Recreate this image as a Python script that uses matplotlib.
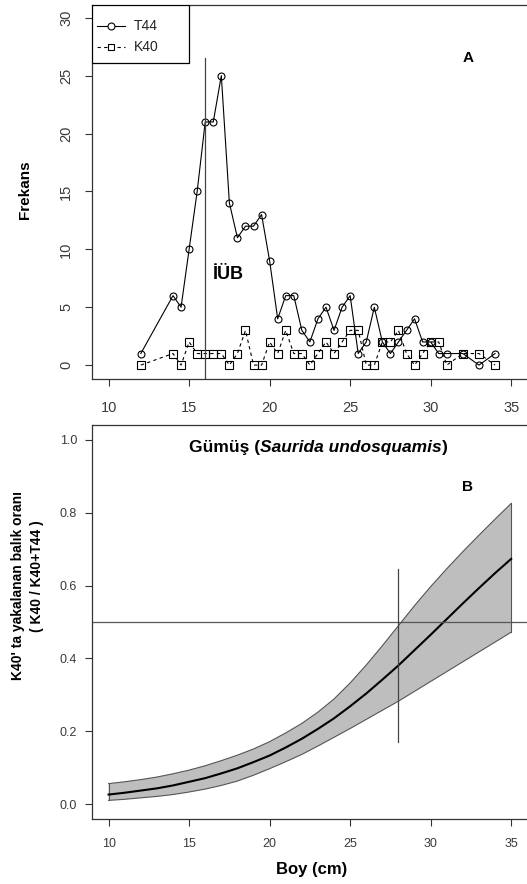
import numpy as np
import matplotlib.pyplot as plt
from matplotlib.patches import Rectangle
from matplotlib.lines import Line2D

plt.rcParams['font.family'] = ['Liberation Sans', 'DejaVu Sans']

# boy frekans dagilimi (A)
boy_t44 = [12, 14, 14.5, 15, 15.5, 16, 16.5, 17, 17.5, 18, 18.5, 19, 19.5, 20,
           20.5, 21, 21.5, 22, 22.5, 23, 23.5, 24, 24.5, 25, 25.5, 26, 26.5, 27,
           27.5, 28, 28.5, 29, 29.5, 30, 30.5, 31, 32, 33, 34]
frek_t44 = [1, 6, 5, 10, 15, 21, 21, 25, 14, 11, 12, 12, 13, 9,
            4, 6, 6, 3, 2, 4, 5, 3, 5, 6, 1, 2, 5, 2,
            1, 2, 3, 4, 2, 2, 1, 1, 1, 0, 1]
boy_k40 = [12, 14, 14.5, 15, 15.5, 16, 16.5, 17, 17.5, 18, 18.5, 19, 19.5, 20,
           20.5, 21, 21.5, 22, 22.5, 23, 23.5, 24, 24.5, 25, 25.5, 26, 26.5, 27,
           27.5, 28, 28.5, 29, 29.5, 30, 30.5, 31, 32, 33, 34]
frek_k40 = [0, 1, 0, 2, 1, 1, 1, 1, 0, 1, 3, 0, 0, 2,
            1, 3, 1, 1, 0, 1, 2, 1, 2, 3, 3, 0, 0, 2,
            2, 3, 1, 0, 1, 2, 2, 0, 1, 1, 0]
iub = 16

# secicilik egrisi ve guven araligi (B)
boy_fit = [10, 11, 12, 13, 14, 15, 16, 17, 18, 19, 20, 21, 22,
           23, 24, 25, 26, 27, 28, 29, 30, 31, 32, 33, 34, 35]
p_fit = [0.027, 0.032, 0.038, 0.044, 0.052, 0.062, 0.072, 0.085, 0.099,
         0.116, 0.134, 0.156, 0.180, 0.207, 0.236, 0.269, 0.304, 0.342,
         0.381, 0.423, 0.465, 0.508, 0.551, 0.593, 0.634, 0.673]
p_ust = [0.057, 0.062, 0.068, 0.075, 0.084, 0.094, 0.106, 0.120, 0.135,
         0.152, 0.172, 0.196, 0.222, 0.253, 0.289, 0.333, 0.382, 0.435,
         0.490, 0.545, 0.597, 0.646, 0.693, 0.738, 0.782, 0.825]
p_alt = [0.011, 0.014, 0.018, 0.022, 0.027, 0.034, 0.042, 0.052, 0.064,
         0.080, 0.098, 0.117, 0.137, 0.160, 0.184, 0.208, 0.233, 0.258,
         0.283, 0.310, 0.337, 0.364, 0.391, 0.418, 0.445, 0.472]
l50 = 28

W, H = 527, 884
fig = plt.figure(figsize=(W / 100, H / 100), dpi=100)
ax1 = fig.add_axes([92.5 / W, 1 - 379 / H, 438 / W, 374 / H])
ax2 = fig.add_axes([92.5 / W, 1 - 819 / H, 438 / W, 394 / H])

frame = '#333333'
txt = '#3a3a3a'
for ax in (ax1, ax2):
    for s in ax.spines.values():
        s.set_color(frame)
        s.set_linewidth(0.9)
    ax.set_xlim(9, 36.2)
    ax.set_xticks([10, 15, 20, 25, 30, 35])

# --- A ---
ax1.plot(boy_t44, frek_t44, '-o', color='black', lw=0.8, ms=5,
         mfc='none', mew=0.8)
ax1.plot(boy_k40, frek_k40, '--s', color='black', lw=0.8, ms=5.5,
         mfc='none', mew=0.8, dashes=(3, 3))
ax1.plot([iub, iub], [-1.2, 26.5], color='#444444', lw=0.9)
ax1.set_ylim(-1.2, 31.1)
ax1.set_yticks([0, 5, 10, 15, 20, 25, 30])
ax1.tick_params(direction='out', length=5, width=0.8, color=frame,
                labelcolor=txt, labelsize=10.5)
ax1.tick_params(axis='x', pad=11)
ax1.tick_params(axis='y', labelrotation=90, pad=9)
for lab in ax1.get_yticklabels():
    lab.set_va('center')
ax1.text(16.45, 7.8, 'İÜB', fontsize=13, fontweight='bold', va='center')
ax1.text(32.35, 26.5, 'A', fontsize=11, fontweight='bold',
         ha='center', va='center')

# lejant kutusu (R tarzi)
tr = ax1.transAxes
ax1.add_patch(Rectangle((0, 0.845), 0.221, 0.155, transform=tr,
                        facecolor='white', edgecolor='black', lw=0.9,
                        zorder=5))
for yy, mk, ls, lab in [(0.945, 'o', '-', 'T44'), (0.889, 's', '--', 'K40')]:
    ln = Line2D([0.011, 0.075], [yy, yy], transform=tr, color='black',
                lw=0.8, linestyle=ls, zorder=6)
    if ls == '--':
        ln.set_dashes((3, 3))
    ax1.add_line(ln)
    ax1.add_line(Line2D([0.043], [yy], transform=tr, marker=mk, ms=5,
                        mfc='white', mec='black', mew=0.8, linestyle='none',
                        zorder=7))
    ax1.text(0.095, yy, lab, transform=tr, fontsize=10, va='center',
             color='#222222', zorder=7)

fig.text(25 / W, 1 - 190 / H, 'Frekans', rotation=90, fontsize=11,
         fontweight='bold', ha='center', va='center')

# --- B ---
ax2.fill_between(boy_fit, p_alt, p_ust, facecolor='#bebebe',
                 edgecolor='none')
ax2.plot(boy_fit, p_ust, color='#555555', lw=0.8)
ax2.plot(boy_fit, p_alt, color='#555555', lw=0.8)
ax2.plot([boy_fit[0], boy_fit[0]], [p_alt[0], p_ust[0]], color='#555555', lw=0.8)
ax2.plot([boy_fit[-1], boy_fit[-1]], [p_alt[-1], p_ust[-1]], color='#555555', lw=0.8)
ax2.plot(boy_fit, p_fit, color='black', lw=1.5)
ax2.axhline(0.5, color='#555555', lw=0.9)
ax2.plot([l50, l50], [0.17, 0.645], color='#444444', lw=0.9)
ax2.set_ylim(-0.04, 1.04)
ax2.set_yticks([0.0, 0.2, 0.4, 0.6, 0.8, 1.0])
ax2.set_yticklabels(['0.0', '0.2', '0.4', '0.6', '0.8', '1.0'])
ax2.tick_params(direction='out', length=5, width=0.8, color=frame,
                labelcolor=txt, labelsize=9)
ax2.tick_params(axis='x', pad=9)
ax2.tick_params(axis='y', pad=6)

t1 = ax2.text(15.0, 0.978, 'Gümüş (', fontsize=12.5, fontweight='bold',
              va='center')
t2 = ax2.annotate('Saurida undosquamis', xy=(1, 0), xycoords=t1,
                  va='bottom', fontsize=12.5, fontweight='bold',
                  style='italic')
ax2.annotate(')', xy=(1, 0), xycoords=t2, va='bottom', fontsize=12.5,
             fontweight='bold')
ax2.text(32.3, 0.871, 'B', fontsize=11, fontweight='bold',
         ha='center', va='center')

ax2.set_xlabel('Boy (cm)', fontsize=12, fontweight='bold', labelpad=8)
fig.text(18 / W, 1 - 586 / H, "K40' ta yakalanan balık oranı", rotation=90,
         fontsize=10, fontweight='bold', ha='center', va='center')
fig.text(37 / W, 1 - 576 / H, '( K40 / K40+T44 )', rotation=90,
         fontsize=10, fontweight='bold', ha='center', va='center')

fig.savefig('out.png', dpi=100)
